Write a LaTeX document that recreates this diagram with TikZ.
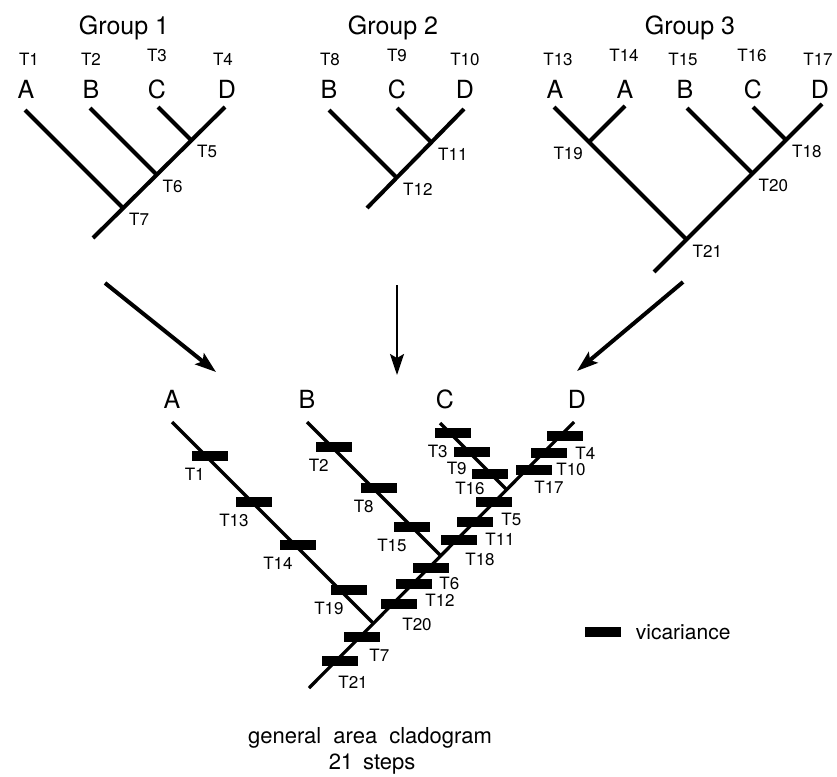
\documentclass[tikz,border=0pt]{standalone}
\usepackage{fontspec}
\setmainfont{TeX Gyre Heros}
\usetikzlibrary{arrows.meta,positioning}
\tikzset{
  grouptitle/.style={font=\fontsize{25}{28}\selectfont,inner sep=0pt,anchor=base},
  area/.style={font=\fontsize{25}{28}\selectfont,inner sep=0pt,anchor=base},
  tname/.style={font=\fontsize{17}{19}\selectfont,inner sep=0pt},
  branch/.style={line width=4pt},
  cladebranch/.style={line width=3.2pt},
  vic/.style={fill=black,minimum width=36pt,minimum height=10pt,inner sep=0pt},
  merge/.style={-{Stealth[length=21pt,width=14pt,inset=4pt]},line width=4pt},
  caption/.style={font=\fontsize{22}{26}\selectfont,inner sep=0pt},
}
\begin{document}
\begin{tikzpicture}[x=1pt,y=-1pt]
  \useasboundingbox (0,0) rectangle (837,776);

  % group 1
  \node[grouptitle] (g1) at (124,35) {Group 1};
  \node[tname,anchor=base] (g1t1) at (29,65) {T1};
  \node[tname,anchor=base] (g1t2) at (91,65) {T2};
  \node[tname,anchor=base] (g1t3) at (157,62) {T3};
  \node[tname,anchor=base] (g1t4) at (223,65) {T4};
  \node[area] (g1A) at (26,98) {A};
  \node[area] (g1B) at (91,98) {B};
  \node[area] (g1C) at (157,98) {C};
  \node[area] (g1D) at (227,98) {D};
  \coordinate (g1a) at (25,110);
  \coordinate (g1b) at (90,108);
  \coordinate (g1c) at (158,107);
  \coordinate (g1d) at (225,107);
  \coordinate (g1r) at (93,238);
  \coordinate (j5) at (191,140);
  \coordinate (j6) at (156.5,174.5);
  \coordinate (j7) at (123,208);
  \draw[branch] (g1r) -- (g1d);
  \draw[branch] (g1a) -- (j7);
  \draw[branch] (g1b) -- (j6);
  \draw[branch] (g1c) -- (j5);
  \node[tname,below right=5pt and 6pt of j5] (n5) {T5};
  \node[tname,below right=5pt and 6pt of j6] (n6) {T6};
  \node[tname,below right=5pt and 6pt of j7] (n7) {T7};

  % group 2
  \node[grouptitle] (g2) at (393,35) {Group 2};
  \node[tname,anchor=base] (g2t8) at (330,65) {T8};
  \node[tname,anchor=base] (g2t9) at (397,62) {T9};
  \node[tname,anchor=base] (g2t10) at (465,65) {T10};
  \node[area] (g2B) at (329,98) {B};
  \node[area] (g2C) at (397,98) {C};
  \node[area] (g2D) at (465,98) {D};
  \coordinate (g2b) at (329,110);
  \coordinate (g2c) at (397,108);
  \coordinate (g2d) at (464,109);
  \coordinate (g2r) at (367,208);
  \coordinate (j11) at (432,143);
  \coordinate (j12) at (397,178);
  \draw[branch] (g2r) -- (g2d);
  \draw[branch] (g2b) -- (j12);
  \draw[branch] (g2c) -- (j11);
  \node[tname,below right=5pt and 6pt of j11] (n11) {T11};
  \node[tname,below right=5pt and 6pt of j12] (n12) {T12};

  % group 3
  \node[grouptitle] (g3) at (690,35) {Group 3};
  \node[tname,anchor=base] (g3t13) at (558,65) {T13};
  \node[tname,anchor=base] (g3t14) at (624,62) {T14};
  \node[tname,anchor=base] (g3t15) at (683,65) {T15};
  \node[tname,anchor=base] (g3t16) at (752,62) {T16};
  \node[tname,anchor=base] (g3t17) at (818,65) {T17};
  \node[area] (g3A) at (555,98) {A};
  \node[area] (g3Ab) at (625,98) {A};
  \node[area] (g3B) at (685,98) {B};
  \node[area] (g3C) at (753,98) {C};
  \node[area] (g3D) at (820,98) {D};
  \coordinate (g3a) at (554,107);
  \coordinate (g3ab) at (625,106);
  \coordinate (g3b) at (687,108);
  \coordinate (g3c) at (753,107);
  \coordinate (g3d) at (822,104);
  \coordinate (g3r) at (654,272);
  \coordinate (j18) at (786,140);
  \coordinate (j19) at (589,142);
  \coordinate (j20) at (752.5,173.5);
  \coordinate (j21) at (686.5,239.5);
  \draw[branch] (g3r) -- (g3d);
  \draw[branch] (g3a) -- (j21);
  \draw[branch] (g3ab) -- (j19);
  \draw[branch] (g3b) -- (j20);
  \draw[branch] (g3c) -- (j18);
  \node[tname,below right=5pt and 6pt of j18] (n18) {T18};
  \node[tname,below left=5pt and 6pt of j19] (n19) {T19};
  \node[tname,below right=5pt and 6pt of j20] (n20) {T20};
  \node[tname,below right=5pt and 6pt of j21] (n21) {T21};

  % the three area cladograms merge
  \coordinate (m1s) at (105,283);
  \coordinate (m1e) at (216,372);
  \coordinate (m2s) at (397,285);
  \coordinate (m2e) at (397,375);
  \coordinate (m3s) at (683,282);
  \coordinate (m3e) at (577,371);
  \draw[merge] (m1s) -- (m1e);
  \draw[merge,line width=2pt] (m2s) -- (m2e);
  \draw[merge] (m3s) -- (m3e);

  % general area cladogram
  \node[area] (gA) at (172,408) {A};
  \node[area] (gB) at (307,408) {B};
  \node[area] (gC) at (445,408) {C};
  \node[area] (gD) at (577,408) {D};
  \coordinate (ga) at (172,422);
  \coordinate (gb) at (307,422);
  \coordinate (gc) at (440,423);
  \coordinate (gd) at (574,422);
  \coordinate (gr) at (309,688);
  \coordinate (ka) at (373.5,623.5);
  \coordinate (kb) at (441,556);
  \coordinate (kc) at (507,490);
  \draw[cladebranch] (gr) -- (gd);
  \draw[cladebranch] (ga) -- (ka);
  \draw[cladebranch] (gb) -- (kb);
  \draw[cladebranch] (gc) -- (kc);

  % vicariance events, left-leaning branches
  \node[vic] (v1) at (210,456) {};
  \node[vic] (v13) at (254,502) {};
  \node[vic] (v14) at (298,545) {};
  \node[vic] (v19) at (349,590) {};
  \node[vic] (v2) at (334,447) {};
  \node[vic] (v8) at (379,488) {};
  \node[vic] (v15) at (412,527) {};
  \node[vic] (v3) at (453,433) {};
  \node[vic] (v9) at (472,452) {};
  \node[vic] (v16) at (490,474) {};
  \node[tname,below left=7pt and -13pt of v1] (w1) {T1};
  \node[tname,below left=7pt and -13pt of v13] (w13) {T13};
  \node[tname,below left=7pt and -13pt of v14] (w14) {T14};
  \node[tname,below left=7pt and -13pt of v19] (w19) {T19};
  \node[tname,below left=7pt and -13pt of v2] (w2) {T2};
  \node[tname,below left=7pt and -13pt of v8] (w8) {T8};
  \node[tname,below left=7pt and -13pt of v15] (w15) {T15};
  \node[tname,below left=7pt and -13pt of v3] (w3) {T3};
  \node[tname,below left=5pt and -13pt of v9] (w9) {T9};
  \node[tname,below left=3pt and -13pt of v16] (w16) {T16};

  % vicariance events, main branch
  \node[vic] (v4) at (565,436) {};
  \node[vic] (v10) at (549,453) {};
  \node[vic] (v17) at (534,470) {};
  \node[vic] (v5) at (494,502) {};
  \node[vic] (v11) at (475,522) {};
  \node[vic] (v18) at (459,540) {};
  \node[vic] (v6) at (431,568) {};
  \node[vic] (v12) at (414,584) {};
  \node[vic] (v20) at (399,604) {};
  \node[vic] (v7) at (362,637) {};
  \node[vic] (v21) at (340,661) {};
  \node[tname,below right=6pt and -8pt of v4] (w4) {T4};
  \node[tname,below right=5pt and -11pt of v10] (w10) {T10};
  \node[tname,below right=6pt and -18pt of v17] (w17) {T17};
  \node[tname,below right=6pt and -11pt of v5] (w5) {T5};
  \node[tname,below right=6pt and -8pt of v11] (w11) {T11};
  \node[tname,below right=8pt and -12pt of v18] (w18) {T18};
  \node[tname,below right=4pt and -10pt of v6] (w6) {T6};
  \node[tname,below right=5pt and -7pt of v12] (w12) {T12};
  \node[tname,below right=9pt and -15pt of v20] (w20) {T20};
  \node[tname,below right=7pt and -11pt of v7] (w7) {T7};
  \node[tname,below right=10pt and -20pt of v21] (w21) {T21};

  % key
  \node[vic] (key) at (602.5,632) {};
  \node[caption,font=\fontsize{21}{24}\selectfont,right=15pt of key] (keytext) {vicariance};

  \node[caption,anchor=base] (cap1) at (370,743)
    {general\hspace{0.55em}area\hspace{0.55em}cladogram};
  \node[caption,anchor=base] (cap2) at (372,769) {21\hspace{0.45em}steps};
\end{tikzpicture}
\end{document}
